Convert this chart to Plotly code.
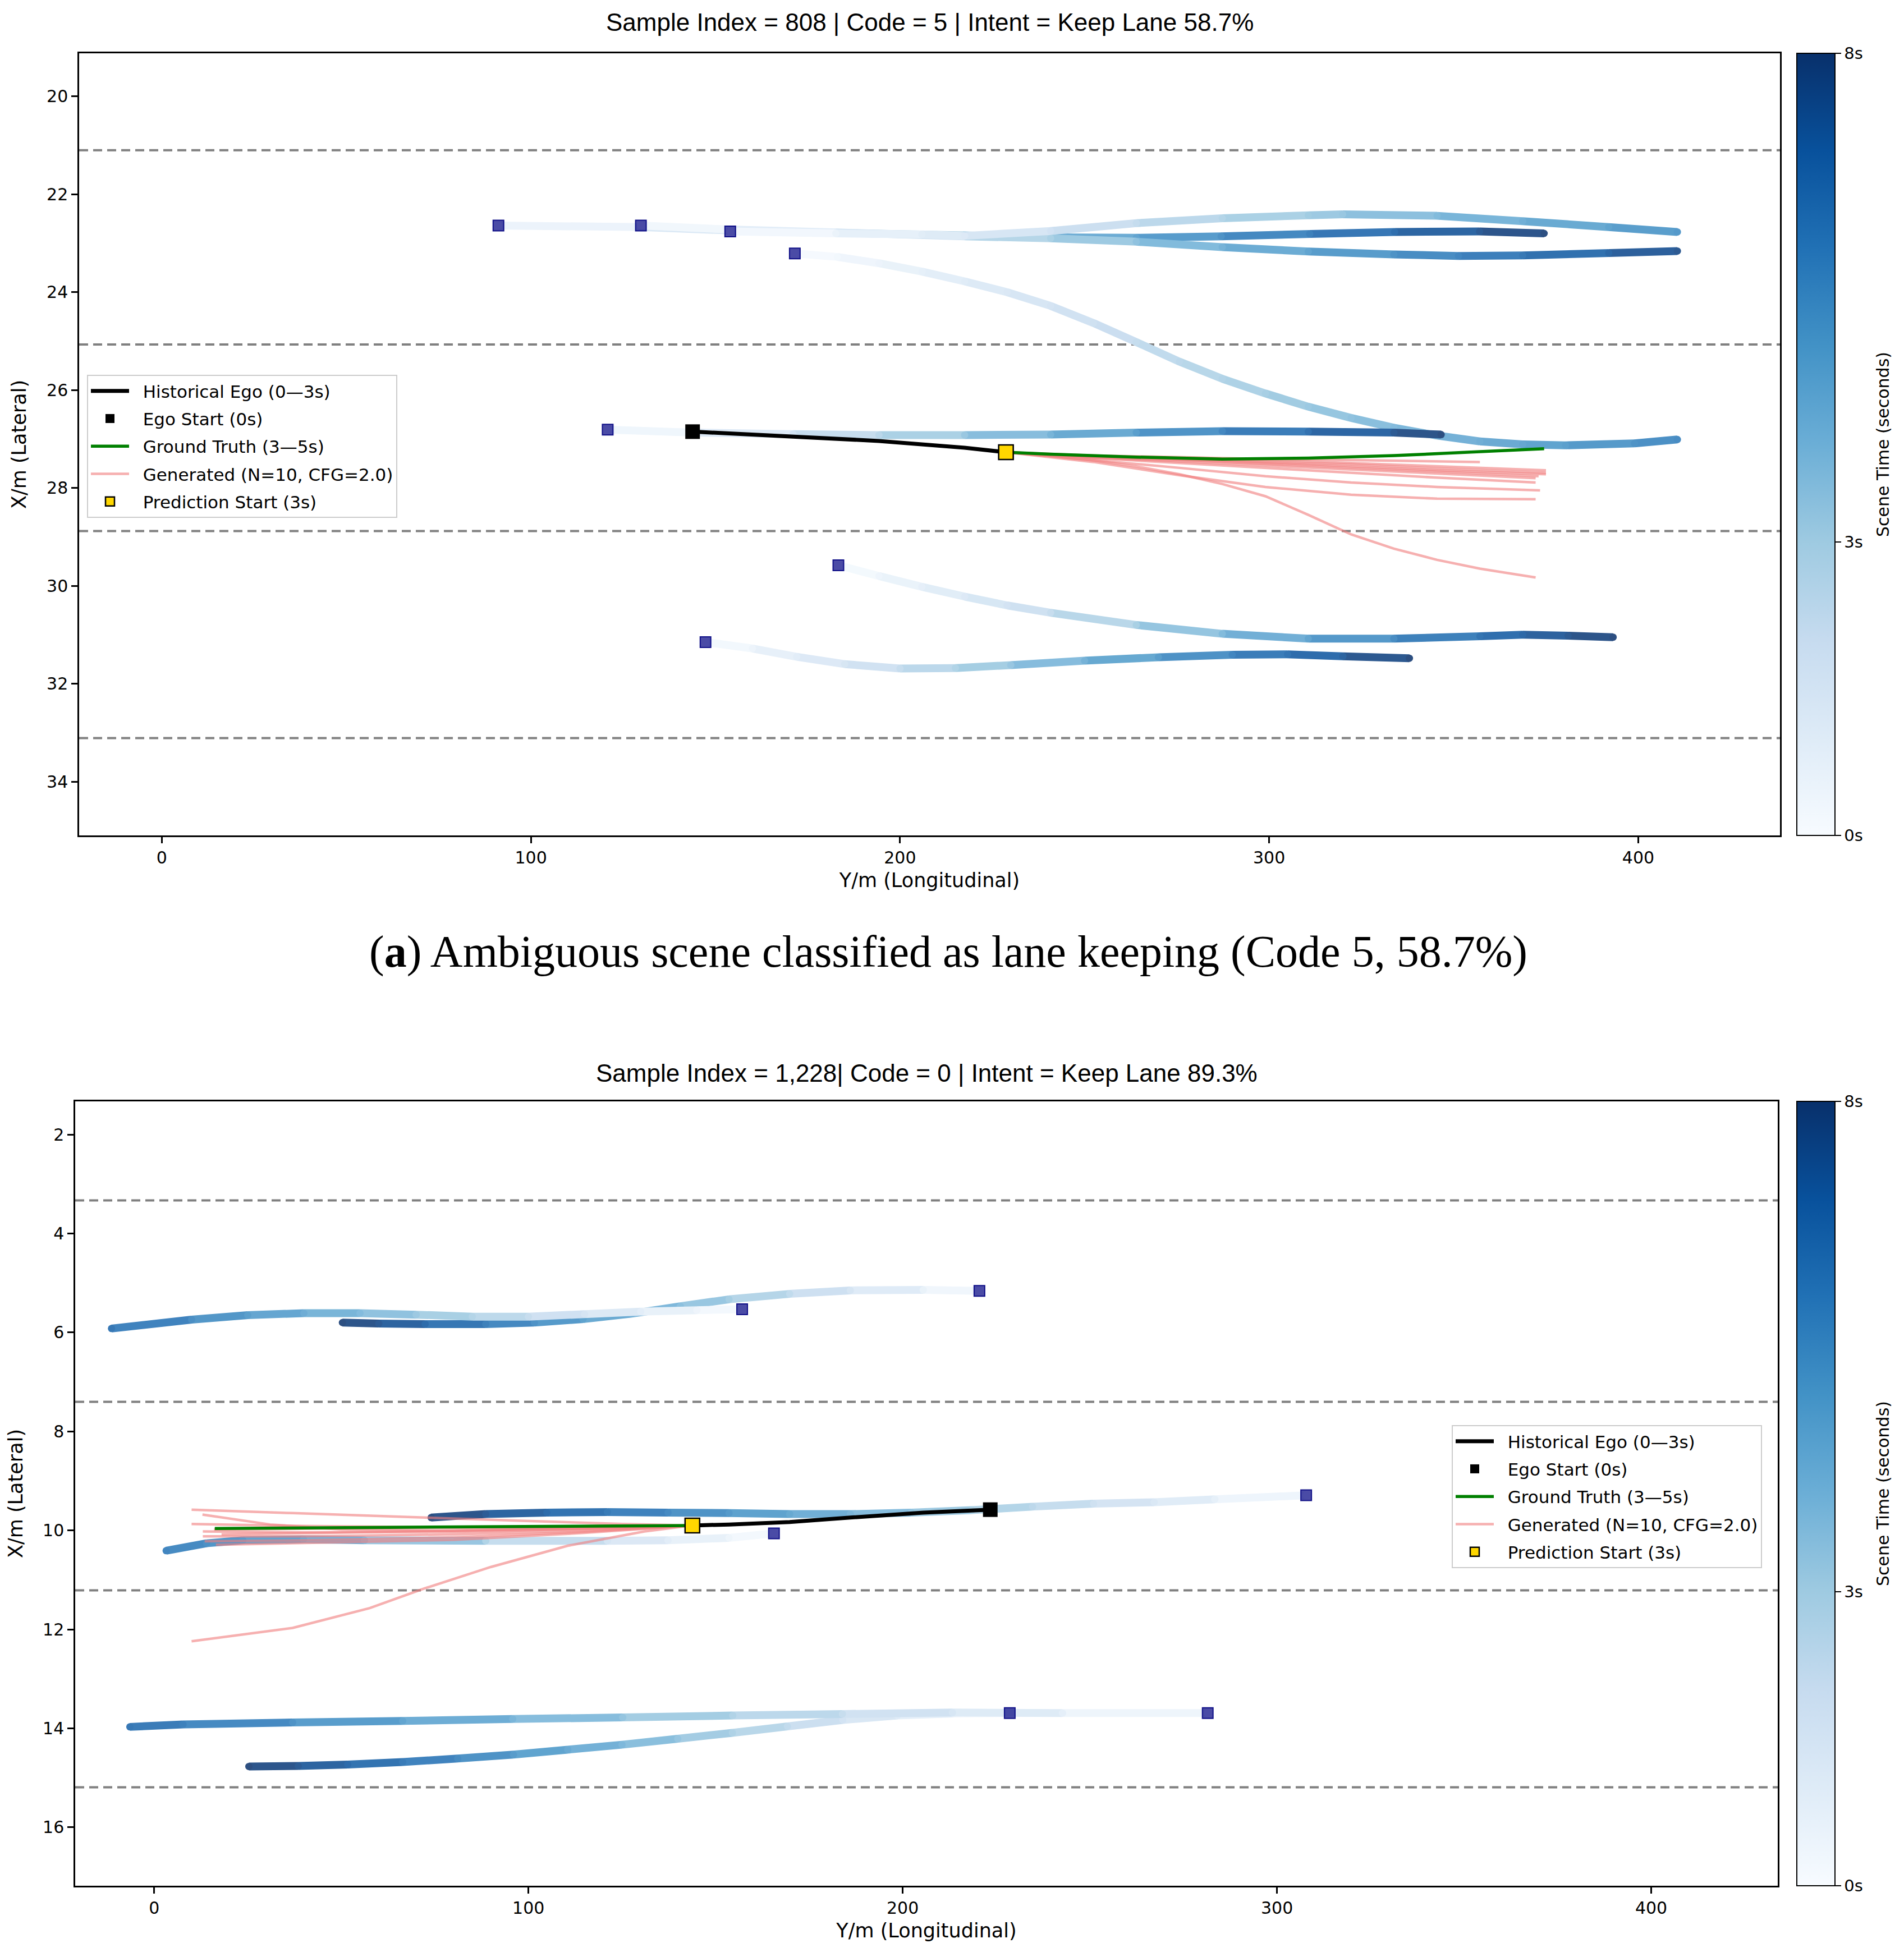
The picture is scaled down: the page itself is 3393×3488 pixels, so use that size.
import plotly.graph_objects as go
from plotly.colors import sample_colorscale, unlabel_rgb

W, H = 3393, 3488
BODY = 8                     # default page margin of the html body
FW, FH = W - 2 * BODY, H - 2 * BODY

# ---------------- Panel (a) data ----------------
a_title = "Sample Index = 808 | Code = 5 | Intent = Keep Lane 58.7%"
a_caption = "(<b>a</b>) Ambiguous scene classified as lane keeping (Code 5, 58.7%)"
a_lane_y = [21.1, 25.07, 28.88, 33.11]
a_xticks = [0, 100, 200, 300, 400]
a_yticks = [20, 22, 24, 26, 28, 30, 32, 34]

a_v1_x = [91.2, 130, 154, 183, 217, 241, 264, 287, 311, 334, 357, 374.5]
a_v1_y = [22.64, 22.67, 22.74, 22.79, 22.84, 22.88, 22.89, 22.86, 22.81, 22.77, 22.76, 22.80]
a_v1_t = [0, 1.1, 1.77, 2.58, 3.55, 4.23, 4.88, 5.53, 6.2, 6.85, 7.5, 8.0]

a_v2_x = [129.8, 154, 182.6, 217.5, 240.8, 264, 287.3, 310.6, 333.8, 351.3, 368.7, 392, 410.6]
a_v2_y = [22.64, 22.72, 22.78, 22.86, 22.90, 22.97, 23.08, 23.17, 23.23, 23.26, 23.25, 23.20, 23.16]
a_v2_t = [0, 0.66, 1.43, 2.38, 3.01, 3.64, 4.27, 4.9, 5.53, 6.0, 6.47, 7.1, 7.6]

a_v3_x = [154, 182.6, 205.9, 217.5, 240.8, 264, 287.3, 310.6, 319.9, 345.5, 368.7, 392, 410.6]
a_v3_y = [22.76, 22.80, 22.82, 22.85, 22.75, 22.59, 22.49, 22.43, 22.41, 22.44, 22.55, 22.67, 22.77]
a_v3_t = [0, 0.6, 1.07, 1.31, 1.8, 2.28, 2.77, 3.25, 3.44, 3.97, 4.45, 4.93, 5.3]

a_v4_x = [171.5, 183, 194.3, 206, 217.5, 229, 240.8, 252.4, 264, 275.7, 287.3, 299, 310.6,
          322.2, 333.8, 345.5, 357.1, 368.7, 380.3, 399, 410.6]
a_v4_y = [23.21, 23.28, 23.41, 23.58, 23.78, 24.0, 24.28, 24.63, 25.02, 25.42, 25.77, 26.07, 26.34,
          26.57, 26.77, 26.93, 27.05, 27.11, 27.13, 27.09, 27.01]
a_v4_t = [0, 0.28, 0.55, 0.84, 1.11, 1.39, 1.68, 1.96, 2.24, 2.52, 2.8, 3.09, 3.37,
          3.65, 3.93, 4.21, 4.49, 4.77, 5.06, 5.51, 5.79]

a_v5_x = [120.8, 143.8, 171, 194.3, 217.5, 240.8, 264, 287.3, 310.6, 333.8, 346.6]
a_v5_y = [26.81, 26.87, 26.90, 26.92, 26.92, 26.91, 26.87, 26.84, 26.85, 26.87, 26.91]
a_v5_t = [0, 0.81, 1.78, 2.6, 3.43, 4.25, 5.08, 5.9, 6.73, 7.55, 8.0]

a_v6_x = [183.3, 194.3, 205.9, 217.5, 229, 240.8, 264, 287.3, 310.6, 333.8, 357.1, 368.7, 381, 393.2]
a_v6_y = [29.58, 29.80, 30.02, 30.22, 30.40, 30.55, 30.80, 30.98, 31.08, 31.08, 31.03, 31.00, 31.02, 31.05]
a_v6_t = [0, 0.42, 0.86, 1.31, 1.74, 2.19, 3.08, 3.97, 4.86, 5.74, 6.63, 7.08, 7.55, 8.0]

a_v7_x = [147.3, 160, 172, 185, 200, 215, 230, 250, 270, 290, 305, 320, 338]
a_v7_y = [31.15, 31.28, 31.45, 31.60, 31.69, 31.68, 31.62, 31.53, 31.46, 31.41, 31.40, 31.44, 31.48]
a_v7_t = [0, 0.53, 1.04, 1.58, 2.21, 2.84, 3.47, 4.31, 5.15, 5.99, 6.62, 7.25, 8.0]

a_hist_x = [143.8, 171, 194.3, 217.5, 228.7]
a_hist_y = [26.85, 26.95, 27.04, 27.18, 27.27]

a_gt_x = [228.7, 240.8, 264, 287.3, 310.6, 333.8, 357.1, 374.5]
a_gt_y = [27.27, 27.31, 27.37, 27.41, 27.39, 27.34, 27.26, 27.20]

a_g1_x = [228.7, 252.4, 275.7, 299, 322.2, 357.1]
a_g1_y = [27.27, 27.34, 27.37, 27.41, 27.43, 27.47]
a_g2_x = [228.7, 252.4, 275.7, 299, 322.2, 345.5, 375]
a_g2_y = [27.27, 27.35, 27.39, 27.43, 27.49, 27.56, 27.64]
a_g3_x = [228.7, 252.4, 275.7, 299, 322.2, 345.5, 375]
a_g3_y = [27.27, 27.35, 27.41, 27.46, 27.52, 27.60, 27.69]
a_g4_x = [228.7, 252.4, 275.7, 299, 322.2, 345.5, 375]
a_g4_y = [27.27, 27.36, 27.41, 27.48, 27.56, 27.64, 27.72]
a_g5_x = [228.7, 252.4, 275.7, 299, 322.2, 345.5, 373]
a_g5_y = [27.27, 27.37, 27.43, 27.51, 27.59, 27.67, 27.76]
a_g6_x = [228.7, 252.4, 275.7, 299, 322.2, 345.5, 372.2]
a_g6_y = [27.27, 27.38, 27.46, 27.54, 27.62, 27.71, 27.80]
a_g7_x = [228.7, 252.4, 275.7, 299, 322.2, 345.5, 372.2]
a_g7_y = [27.27, 27.39, 27.49, 27.59, 27.69, 27.79, 27.89]
a_g8_x = [228.7, 252.4, 275.7, 299, 322.2, 345.5, 373.4]
a_g8_y = [27.27, 27.43, 27.59, 27.76, 27.89, 27.98, 28.05]
a_g9_x = [228.7, 252.4, 275.7, 299, 322.2, 345.5, 372.2]
a_g9_y = [27.27, 27.47, 27.74, 27.98, 28.14, 28.22, 28.23]
a_g10_x = [228.7, 240.8, 252.4, 264, 275.7, 287.3, 299, 310.6, 322.2, 333.8, 345.5, 357.1, 372.2]
a_g10_y = [27.27, 27.35, 27.44, 27.56, 27.72, 27.92, 28.17, 28.55, 28.95, 29.24, 29.47, 29.65, 29.83]

# ---------------- Panel (b) data ----------------
b_title = "Sample Index = 1,228| Code = 0 | Intent = Keep Lane 89.3%"
b_lane_y = [3.33, 7.40, 11.21, 15.19]
b_xticks = [0, 100, 200, 300, 400]
b_yticks = [2, 4, 6, 8, 10, 12, 14, 16]

b_v1_x = [220.5, 205.5, 186, 169.8, 153.6, 140.6, 127.6, 114.6, 101.6, 88.6, 72.4, 60, 50.3]
b_v1_y = [5.16, 5.14, 5.15, 5.22, 5.33, 5.47, 5.62, 5.73, 5.80, 5.83, 5.83, 5.82, 5.80]
b_v1_t = [0, 0.7, 1.62, 2.38, 3.14, 3.75, 4.36, 4.97, 5.58, 6.19, 6.95, 7.54, 8.0]

b_v2_x = [157.1, 145, 130, 115, 100, 85, 70, 55, 40, 25, 10, -11.4]
b_v2_y = [5.53, 5.55, 5.58, 5.63, 5.68, 5.68, 5.64, 5.61, 5.61, 5.65, 5.74, 5.92]
b_v2_t = [0, 0.47, 1.05, 1.63, 2.2, 2.78, 3.36, 3.94, 4.52, 5.1, 5.68, 6.5]

b_v3_x = [307.8, 283.4, 267.2, 251, 234.7, 218.5, 202.3, 186, 169.8, 153.6, 137.3, 121.1, 104.9, 88.6, 74]
b_v3_y = [9.29, 9.37, 9.43, 9.46, 9.52, 9.59, 9.64, 9.67, 9.67, 9.65, 9.64, 9.63, 9.64, 9.67, 9.74]
b_v3_t = [0, 0.84, 1.4, 1.95, 2.5, 3.06, 3.61, 4.17, 4.73, 5.28, 5.84, 6.39, 6.95, 7.5, 8.0]

b_v4_x = [165.6, 153.6, 137.3, 121.1, 88.6, 56.2, 39.9, 23.7, 14, 3.2]
b_v4_y = [10.06, 10.15, 10.20, 10.21, 10.21, 10.20, 10.18, 10.20, 10.26, 10.41]
b_v4_t = [0, 0.44, 1.05, 1.65, 2.85, 4.05, 4.66, 5.26, 5.61, 6.0]

b_v5_x = [228.6, 213.6, 198.6, 184, 169.2, 154.5, 139.9, 125, 110.5, 96, 81.1, 66.4, 51.7, 38.5, 25.3]
b_v5_y = [13.69, 13.70, 13.74, 13.83, 13.96, 14.09, 14.21, 14.33, 14.43, 14.53, 14.61, 14.68, 14.73, 14.76, 14.77]
b_v5_t = [0, 0.59, 1.18, 1.76, 2.34, 2.92, 3.49, 4.08, 4.65, 5.22, 5.8, 6.38, 6.96, 7.48, 8.0]

b_v6_x = [281.5, 242.7, 213.3, 183.9, 154.6, 125.2, 95.8, 66.4, 37, 7.7, -6.5]
b_v6_y = [13.69, 13.69, 13.68, 13.71, 13.74, 13.78, 13.81, 13.85, 13.88, 13.92, 13.97]
b_v6_t = [0, 0.88, 1.54, 2.2, 2.86, 3.53, 4.19, 4.86, 5.52, 6.18, 6.5]

b_hist_x = [223.4, 205.5, 186, 169.8, 153.6, 143.8]
b_hist_y = [9.58, 9.64, 9.74, 9.83, 9.88, 9.90]

b_gt_x = [143.8, 121.1, 88.6, 56.2, 23.7, 16.2]
b_gt_y = [9.90, 9.91, 9.92, 9.93, 9.95, 9.96]

b_g1_x = [143.8, 125.2, 95.8, 66.4, 37, 10]
b_g1_y = [9.90, 9.87, 9.80, 9.73, 9.65, 9.58]
b_g2_x = [143.8, 110, 80, 50, 31, 20, 12.9]
b_g2_y = [9.90, 9.97, 10.01, 9.98, 9.88, 9.76, 9.68]
b_g3_x = [143.8, 110, 80, 40, 10]
b_g3_y = [9.90, 9.93, 9.94, 9.91, 9.87]
b_g4_x = [143.8, 115, 80, 40, 13]
b_g4_y = [9.90, 9.97, 10.03, 10.04, 10.02]
b_g5_x = [143.8, 115, 80, 40, 13]
b_g5_y = [9.90, 10.00, 10.08, 10.12, 10.12]
b_g6_x = [143.8, 115, 80, 40, 13.5]
b_g6_y = [9.90, 10.03, 10.14, 10.20, 10.22]
b_g7_x = [143.8, 115, 80, 40, 16.5]
b_g7_y = [9.90, 10.05, 10.19, 10.26, 10.29]
b_g8_x = [143.8, 131, 110.5, 89.9, 72.3, 57.6, 37, 10]
b_g8_y = [9.90, 10.02, 10.31, 10.74, 11.17, 11.57, 11.97, 12.24]
b_g9_x = [143.8, 110, 70, 30, 16]
b_g9_y = [9.90, 9.92, 9.95, 9.97, 9.98]
b_g10_x = [143.8, 115, 80, 45, 18]
b_g10_y = [9.90, 9.95, 10.00, 10.05, 10.08]

# colorbar ticks
cb_tickvals = [0, 3, 8]
cb_ticktext = ["0s", "3s", "8s"]

# legend labels
lbl_hist = "Historical Ego (0—3s)"
lbl_start = "Ego Start (0s)"
lbl_gt = "Ground Truth (3—5s)"
lbl_gen = "Generated (N=10, CFG=2.0)"
lbl_pred = "Prediction Start (3s)"

# ---------------- styling ----------------
BLUES = [[0.0, 'rgb(247,251,255)'], [0.125, 'rgb(222,235,247)'], [0.25, 'rgb(198,219,239)'],
         [0.375, 'rgb(158,202,225)'], [0.5, 'rgb(107,174,214)'], [0.625, 'rgb(66,146,198)'],
         [0.75, 'rgb(33,113,181)'], [0.875, 'rgb(8,81,156)'], [1.0, 'rgb(8,48,107)']]
TMAX = 8.0
TRACK_W = 14
GEN_COLOR = 'rgba(240,128,128,0.62)'
SANS = "DejaVu Sans"
PAD = "\u00a0\u00a0"


def pxx(p):
    return (p - BODY) / FW


def pxy(p):
    return 1 - (p - BODY) / FH


def tcol(t):
    c = sample_colorscale(BLUES, [max(0.0, min(1.0, t / TMAX))])[0]
    r, g, b = unlabel_rgb(c)
    a = 0.85
    return 'rgb(%d,%d,%d)' % (r * a + 255 * (1 - a), g * a + 255 * (1 - a), b * a + 255 * (1 - a))


fig = go.Figure()


def add_track(xs, ys, ts, xa, ya, cax):
    for i in range(len(xs) - 1):
        tm = 0.5 * (ts[i] + ts[i + 1])
        fig.add_trace(go.Scatter(x=[xs[i], xs[i + 1]], y=[ys[i], ys[i + 1]], mode='lines',
                                 line=dict(color=tcol(tm), width=TRACK_W),
                                 xaxis=xa, yaxis=ya, showlegend=False, hoverinfo='skip'))
    fig.add_trace(go.Scatter(x=xs, y=ys, mode='markers',
                             marker=dict(size=TRACK_W - 1, color=[tcol(t) for t in ts], line=dict(width=0)),
                             xaxis=xa, yaxis=ya, showlegend=False, hoverinfo='skip'))
    # invisible trace binding the time values to the colour axis (drives the colorbar)
    fig.add_trace(go.Scatter(x=xs, y=ys, mode='markers',
                             marker=dict(size=2, color=ts, coloraxis=cax, opacity=0),
                             xaxis=xa, yaxis=ya, showlegend=False, hoverinfo='skip'))


def add_panel(tracks, hist, gt, gens, xa, ya, cax, legend):
    for xs, ys, ts in tracks:
        add_track(xs, ys, ts, xa, ya, cax)
    for k, (gx, gy) in enumerate(gens):
        fig.add_trace(go.Scatter(x=gx, y=gy, mode='lines', line=dict(color=GEN_COLOR, width=4.5),
                                 name=PAD + lbl_gen, showlegend=(k == 0), legend=legend,
                                 legendrank=4, legendgroup='gen', xaxis=xa, yaxis=ya))
    fig.add_trace(go.Scatter(x=hist[0], y=hist[1], mode='lines', line=dict(color='black', width=7),
                             name=PAD + lbl_hist, legend=legend, legendrank=1, legendgroup='hist',
                             xaxis=xa, yaxis=ya))
    fig.add_trace(go.Scatter(x=gt[0], y=gt[1], mode='lines', line=dict(color='green', width=5.5),
                             name=PAD + lbl_gt, legend=legend, legendrank=3, legendgroup='gt',
                             xaxis=xa, yaxis=ya))
    fig.add_trace(go.Scatter(x=[hist[0][0]], y=[hist[1][0]], mode='markers',
                             marker=dict(symbol='square', size=26, color='black'),
                             name=PAD + lbl_start, legend=legend, legendrank=2, legendgroup='es',
                             xaxis=xa, yaxis=ya))
    fig.add_trace(go.Scatter(x=[gt[0][0]], y=[gt[1][0]], mode='markers',
                             marker=dict(symbol='square', size=26, color='gold', line=dict(color='black', width=2.5)),
                             name=PAD + lbl_pred, legend=legend, legendrank=5, legendgroup='ps',
                             xaxis=xa, yaxis=ya))
    fig.add_trace(go.Scatter(x=[t[0][0] for t in tracks], y=[t[1][0] for t in tracks], mode='markers',
                             marker=dict(symbol='square', size=19, color='rgba(0,0,128,0.7)',
                                         line=dict(color='rgba(0,0,128,0.9)', width=2)),
                             showlegend=False, xaxis=xa, yaxis=ya, hoverinfo='skip'))


a_tracks = [(a_v1_x, a_v1_y, a_v1_t), (a_v2_x, a_v2_y, a_v2_t), (a_v3_x, a_v3_y, a_v3_t),
            (a_v4_x, a_v4_y, a_v4_t), (a_v5_x, a_v5_y, a_v5_t), (a_v6_x, a_v6_y, a_v6_t),
            (a_v7_x, a_v7_y, a_v7_t)]
a_gens = [(a_g1_x, a_g1_y), (a_g2_x, a_g2_y), (a_g3_x, a_g3_y), (a_g4_x, a_g4_y), (a_g5_x, a_g5_y),
          (a_g6_x, a_g6_y), (a_g7_x, a_g7_y), (a_g8_x, a_g8_y), (a_g9_x, a_g9_y), (a_g10_x, a_g10_y)]
b_tracks = [(b_v1_x, b_v1_y, b_v1_t), (b_v2_x, b_v2_y, b_v2_t), (b_v3_x, b_v3_y, b_v3_t),
            (b_v4_x, b_v4_y, b_v4_t), (b_v5_x, b_v5_y, b_v5_t), (b_v6_x, b_v6_y, b_v6_t)]
b_gens = [(b_g1_x, b_g1_y), (b_g2_x, b_g2_y), (b_g3_x, b_g3_y), (b_g4_x, b_g4_y), (b_g5_x, b_g5_y),
          (b_g6_x, b_g6_y), (b_g7_x, b_g7_y), (b_g8_x, b_g8_y), (b_g9_x, b_g9_y), (b_g10_x, b_g10_y)]

add_panel(a_tracks, (a_hist_x, a_hist_y), (a_gt_x, a_gt_y), a_gens, 'x', 'y', 'coloraxis', 'legend')
add_panel(b_tracks, (b_hist_x, b_hist_y), (b_gt_x, b_gt_y), b_gens, 'x2', 'y2', 'coloraxis2', 'legend2')

# lane lines
shapes = []
for v in a_lane_y:
    shapes.append(dict(type='line', xref='x domain', yref='y', x0=0, x1=1, y0=v, y1=v, layer='below',
                       line=dict(color='gray', width=4, dash='16px,9px')))
for v in b_lane_y:
    shapes.append(dict(type='line', xref='x2 domain', yref='y2', x0=0, x1=1, y0=v, y1=v, layer='below',
                       line=dict(color='gray', width=4, dash='16px,9px')))

# domains (from page pixel positions)
ax_a = [pxx(141), pxx(3172)]
ay_a = [pxy(1489), pxy(95)]
ax_b = [pxx(134), pxx(3168)]
ay_b = [pxy(3361), pxy(1963)]

axis_common = dict(showline=True, mirror=True, linecolor='black', linewidth=2.5, ticks='outside',
                   ticklen=11, tickwidth=2.5, tickcolor='black', showgrid=False, zeroline=False,
                   tickfont=dict(family=SANS, size=30, color='black'),
                   title_font=dict(family=SANS, size=35, color='black'))


def cbar(ydom):
    return dict(cmin=0, cmax=TMAX, colorscale=BLUES,
                colorbar=dict(x=pxx(3202), xanchor='left', xpad=0, ypad=0,
                              y=(ydom[0] + ydom[1]) / 2, yanchor='middle', len=ydom[1] - ydom[0],
                              lenmode='fraction', thickness=68, outlinewidth=2, outlinecolor='black',
                              ticks='outside', ticklen=10, tickwidth=2, tickcolor='black',
                              tickvals=cb_tickvals, ticktext=cb_ticktext,
                              tickfont=dict(family=SANS, size=29, color='black')))


legend_common = dict(bgcolor='rgba(255,255,255,0.85)', bordercolor='#cccccc', borderwidth=2,
                     font=dict(family=SANS, size=31, color='black'), itemwidth=68,
                     tracegroupgap=6, xanchor='left', yanchor='top', traceorder='grouped')


def ann(text, x, y, font, size, angle=0):
    return dict(text=text, xref='paper', yref='paper', x=x, y=y, xanchor='center', yanchor='middle',
                showarrow=False, textangle=angle, font=dict(family=font, size=size, color='black'))


fig.update_layout(
    width=FW, height=FH, margin=dict(l=0, r=0, t=0, b=0),
    paper_bgcolor='white', plot_bgcolor='white', shapes=shapes,
    xaxis=dict(domain=ax_a, anchor='y', range=[-22.4, 438.4], tickvals=a_xticks,
               title=dict(text='Y/m (Longitudinal)', standoff=12), **axis_common),
    yaxis=dict(domain=ay_a, anchor='x', range=[35.1, 19.12], tickvals=a_yticks,
               title=dict(text='X/m (Lateral)', standoff=26), **axis_common),
    xaxis2=dict(domain=ax_b, anchor='y2', range=[-21.1, 433.8], tickvals=b_xticks,
                title=dict(text='Y/m (Longitudinal)', standoff=12), **axis_common),
    yaxis2=dict(domain=ay_b, anchor='x2', range=[17.18, 1.33], tickvals=b_yticks,
                title=dict(text='X/m (Lateral)', standoff=26), **axis_common),
    coloraxis=cbar(ay_a), coloraxis2=cbar(ay_b),
    legend=dict(x=pxx(155), y=pxy(668), **legend_common),
    legend2=dict(x=pxx(2587), y=pxy(2540), **legend_common),
    annotations=[
        ann(a_title, (ax_a[0] + ax_a[1]) / 2, pxy(40), 'Liberation Sans', 44),
        ann(b_title, (ax_b[0] + ax_b[1]) / 2, pxy(1913), 'Liberation Sans', 44),
        ann(a_caption, pxx(1690), pxy(1697), 'Liberation Serif', 80),
        ann('Scene Time (seconds)', pxx(3355), (ay_a[0] + ay_a[1]) / 2, SANS, 30, -90),
        ann('Scene Time (seconds)', pxx(3355), (ay_b[0] + ay_b[1]) / 2, SANS, 30, -90),
    ],
)

fig.write_html("out.html")
